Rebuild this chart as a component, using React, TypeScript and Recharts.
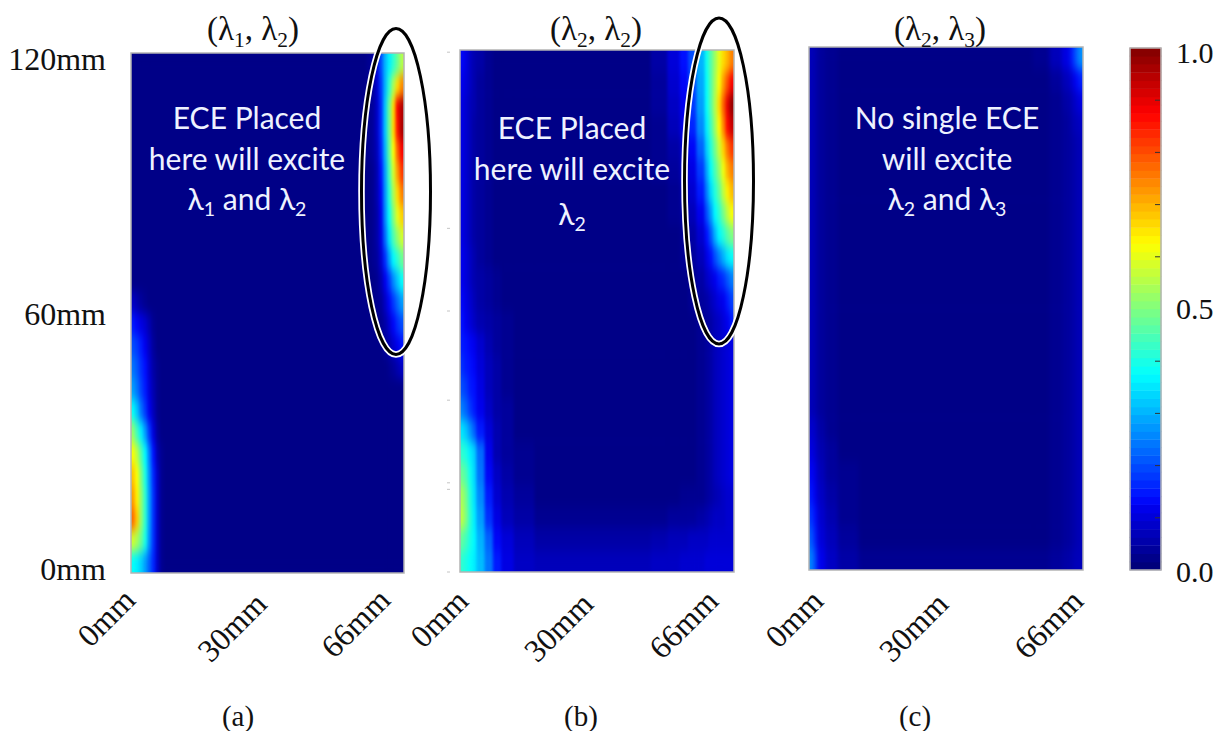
import { ReactNode } from "react";
import { Scatter, ScatterChart, XAxis, YAxis } from "recharts";

// Heat maps of the three wavelength pairs. Cell values are percent of full scale,
// rows run bottom (0-5mm) to top (115-120mm).
const rowEdges = [0, 5, 10, 15, 20, 25, 30, 35, 40, 45, 50, 55, 60, 65, 70, 75, 80, 85, 90, 95, 100, 105, 110, 115, 120];
const xTickValues = [0, 33, 66];
const xTickLabels = ["0mm", "30mm", "66mm"];
const yTickValues = [0, 60, 120];
const yTickLabels = ["0mm", "60mm", "120mm"];
const panelBMinorTicks = [0, 19, 20.5, 39.5, 60, 79, 119.5];
const barTicks = [0, 0.1, 0.2, 0.3, 0.4, 0.5, 0.6, 0.7, 0.8, 0.9, 1];

const columnsA = [0, 1, 2, 3, 4, 5, 6, 7, 8, 9, 57, 58, 59, 60, 61, 62, 63, 64, 65, 66];
const valuesA = [
  [38, 36, 33, 28, 22, 16, 8, 3, 2, 2, 2, 2, 2, 2, 2, 2, 2, 2, 2],
  [58, 54, 48, 40, 27, 17, 8, 3, 2, 2, 2, 2, 2, 2, 2, 2, 2, 2, 2],
  [77, 68, 52, 42, 28, 17, 8, 3, 2, 2, 2, 2, 2, 2, 2, 2, 2, 2, 2],
  [72, 64, 52, 42, 28, 17, 8, 3, 2, 2, 2, 2, 2, 2, 2, 2, 2, 2, 2],
  [68, 62, 50, 40, 27, 16, 8, 3, 2, 2, 2, 2, 2, 2, 2, 2, 2, 2, 2],
  [62, 56, 46, 37, 25, 14, 6, 3, 2, 2, 2, 2, 2, 2, 2, 2, 2, 2, 2],
  [52, 44, 36, 28, 18, 10, 4, 2, 2, 2, 2, 2, 2, 2, 2, 2, 2, 2, 2],
  [38, 32, 24, 18, 12, 7, 3, 2, 2, 2, 2, 2, 2, 2, 2, 2, 2, 2, 2],
  [28, 24, 19, 15, 10, 6, 3, 2, 2, 2, 2, 2, 2, 2, 2, 2, 2, 2, 2],
  [24, 21, 17, 14, 9, 5, 3, 2, 2, 2, 2, 2, 2, 2, 2, 3, 4, 6, 8],
  [20, 18, 15, 12, 8, 4, 2, 2, 2, 2, 2, 2, 2, 2, 4, 6, 9, 12, 14],
  [15, 13, 11, 9, 6, 3, 2, 2, 2, 2, 2, 2, 2, 3, 5, 9, 13, 17, 20],
  [8, 6, 4, 3, 2, 2, 2, 2, 2, 2, 2, 2, 3, 4, 8, 13, 18, 23, 28],
  [2, 2, 2, 2, 2, 2, 2, 2, 2, 2, 2, 2, 3, 6, 12, 18, 26, 32, 38],
  [2, 2, 2, 2, 2, 2, 2, 2, 2, 2, 2, 3, 4, 9, 17, 28, 37, 42, 48],
  [2, 2, 2, 2, 2, 2, 2, 2, 2, 2, 2, 3, 5, 11, 23, 35, 45, 52, 58],
  [2, 2, 2, 2, 2, 2, 2, 2, 2, 2, 2, 3, 5, 12, 26, 38, 50, 60, 67],
  [2, 2, 2, 2, 2, 2, 2, 2, 2, 2, 2, 3, 6, 13, 27, 41, 54, 66, 75],
  [2, 2, 2, 2, 2, 2, 2, 2, 2, 2, 2, 3, 6, 14, 28, 44, 58, 72, 82],
  [2, 2, 2, 2, 2, 2, 2, 2, 2, 2, 3, 4, 7, 16, 30, 47, 62, 78, 88],
  [2, 2, 2, 2, 2, 2, 2, 2, 2, 2, 3, 4, 8, 17, 32, 48, 66, 86, 96],
  [2, 2, 2, 2, 2, 2, 2, 2, 2, 2, 3, 4, 8, 17, 32, 48, 66, 88, 95],
  [2, 2, 2, 2, 2, 2, 2, 2, 2, 2, 3, 4, 9, 18, 30, 42, 54, 66, 74],
  [2, 2, 2, 2, 2, 2, 2, 2, 2, 2, 3, 4, 10, 20, 30, 36, 42, 48, 55],
];

const columnsB = [0, 1, 2, 3, 4, 6, 8, 10, 13, 18, 46, 50, 53, 55, 57, 59, 60, 61, 62, 63, 64, 65, 66];
const valuesB = [
  [42, 40, 38, 36, 31, 24, 15, 11, 8, 7, 8, 8, 9, 9, 9, 10, 10, 10, 10, 10, 10, 10],
  [47, 44, 40, 37, 30, 22, 13, 10, 7, 5, 6, 7, 7, 8, 8, 8, 9, 9, 9, 9, 9, 9],
  [56, 50, 42, 36, 28, 17, 11, 7, 5, 3, 3, 4, 4, 4, 5, 6, 7, 8, 8, 8, 9, 9],
  [54, 49, 41, 35, 26, 15, 9, 6, 4, 2, 2, 2, 3, 3, 3, 4, 5, 6, 7, 8, 9, 9],
  [48, 45, 39, 34, 24, 13, 8, 5, 3, 2, 2, 2, 2, 2, 3, 4, 5, 7, 8, 9, 10, 11],
  [42, 40, 36, 33, 23, 12, 6, 4, 3, 2, 2, 2, 2, 2, 3, 4, 5, 7, 8, 9, 10, 11],
  [35, 32, 27, 22, 15, 10, 6, 4, 2, 2, 2, 2, 2, 2, 3, 4, 5, 7, 8, 9, 10, 11],
  [25, 22, 18, 15, 12, 8, 5, 4, 2, 2, 2, 2, 2, 2, 3, 4, 5, 7, 8, 9, 10, 11],
  [20, 18, 15, 14, 11, 7, 5, 3, 2, 2, 2, 2, 2, 2, 3, 4, 5, 7, 8, 9, 10, 11],
  [17, 15, 14, 13, 10, 7, 5, 3, 2, 2, 2, 2, 2, 2, 3, 4, 5, 7, 8, 9, 10, 11],
  [15, 14, 13, 12, 9, 6, 4, 3, 2, 2, 2, 2, 2, 2, 3, 4, 5, 7, 8, 9, 10, 11],
  [14, 12, 10, 8, 6, 5, 4, 3, 2, 2, 2, 2, 2, 2, 3, 4, 5, 7, 8, 10, 12, 15],
  [13, 11, 9, 7, 5, 4, 3, 2, 2, 2, 2, 2, 2, 3, 4, 5, 7, 9, 11, 12, 15, 19],
  [12, 10, 8, 6, 5, 4, 3, 2, 2, 2, 2, 2, 2, 3, 5, 8, 10, 12, 15, 17, 21, 25],
  [12, 10, 8, 6, 4, 3, 2, 2, 2, 2, 2, 2, 3, 4, 7, 11, 14, 20, 25, 30, 35, 38],
  [11, 9, 7, 5, 4, 3, 2, 2, 2, 2, 2, 2, 3, 5, 9, 14, 21, 30, 37, 41, 46, 50],
  [11, 9, 7, 5, 4, 3, 2, 2, 2, 2, 2, 3, 4, 7, 12, 20, 28, 37, 42, 49, 56, 62],
  [11, 9, 7, 5, 4, 3, 2, 2, 2, 2, 2, 3, 5, 9, 15, 25, 34, 41, 47, 56, 64, 69],
  [11, 9, 7, 5, 4, 3, 2, 2, 2, 2, 3, 4, 7, 11, 18, 29, 38, 45, 52, 61, 70, 75],
  [11, 9, 7, 5, 4, 3, 2, 2, 2, 2, 3, 5, 8, 13, 22, 33, 41, 49, 57, 67, 76, 82],
  [11, 9, 7, 5, 4, 3, 2, 2, 2, 2, 3, 7, 11, 16, 26, 36, 44, 53, 63, 74, 87, 93],
  [11, 9, 7, 6, 4, 3, 2, 2, 2, 2, 4, 8, 12, 18, 28, 38, 46, 55, 66, 78, 90, 98],
  [12, 10, 8, 6, 4, 3, 2, 2, 2, 2, 4, 9, 13, 19, 29, 38, 46, 54, 62, 72, 80, 88],
  [13, 11, 8, 6, 5, 3, 2, 2, 2, 2, 5, 10, 14, 20, 30, 39, 46, 53, 60, 66, 70, 75],
];

const columnsC = [0, 1, 2, 4, 7, 12, 54, 58, 61, 63, 64, 65, 66];
const valuesC = [
  [26, 20, 12, 8, 5, 3, 3, 4, 5, 6, 7, 7],
  [22, 16, 10, 7, 4, 2, 2, 3, 4, 5, 6, 7],
  [18, 14, 9, 6, 3, 2, 2, 3, 4, 5, 6, 7],
  [15, 12, 8, 5, 3, 2, 2, 3, 4, 5, 6, 7],
  [13, 11, 7, 4, 3, 2, 2, 3, 4, 5, 6, 7],
  [11, 9, 6, 4, 2, 2, 2, 3, 4, 5, 6, 7],
  [9, 8, 5, 3, 2, 2, 2, 3, 4, 5, 6, 7],
  [7, 6, 4, 3, 2, 2, 2, 3, 4, 5, 6, 7],
  [7, 6, 4, 3, 2, 2, 2, 3, 4, 5, 6, 7],
  [7, 6, 4, 3, 2, 2, 2, 3, 4, 5, 6, 7],
  [7, 6, 4, 3, 2, 2, 2, 3, 4, 5, 6, 7],
  [7, 6, 4, 3, 2, 2, 2, 3, 4, 5, 6, 7],
  [7, 6, 4, 3, 2, 2, 2, 3, 4, 5, 6, 7],
  [7, 6, 4, 3, 2, 2, 2, 3, 4, 5, 6, 7],
  [7, 6, 4, 3, 2, 2, 2, 3, 4, 5, 6, 7],
  [7, 6, 4, 3, 2, 2, 2, 3, 4, 5, 6, 7],
  [7, 6, 4, 3, 2, 2, 2, 3, 4, 5, 6, 7],
  [7, 6, 4, 3, 2, 2, 2, 3, 4, 5, 6, 7],
  [7, 6, 4, 3, 2, 2, 2, 3, 4, 5, 6, 7],
  [7, 6, 4, 3, 2, 2, 2, 3, 4, 5, 6, 7],
  [7, 6, 4, 3, 2, 2, 2, 3, 4, 6, 7, 8],
  [7, 6, 4, 3, 2, 2, 2, 3, 5, 7, 9, 11],
  [7, 6, 4, 3, 2, 2, 2, 4, 7, 10, 13, 16],
  [7, 6, 4, 3, 2, 2, 3, 7, 11, 16, 22, 27],
];

const barLevels = [
  0.008, 0.023, 0.039, 0.055, 0.07, 0.086, 0.102, 0.117, 0.133, 0.148, 0.164, 0.18, 0.195, 0.211, 0.227, 0.242,
  0.258, 0.273, 0.289, 0.305, 0.32, 0.336, 0.352, 0.367, 0.383, 0.398, 0.414, 0.43, 0.445, 0.461, 0.477, 0.492,
  0.508, 0.523, 0.539, 0.555, 0.57, 0.586, 0.602, 0.617, 0.633, 0.648, 0.664, 0.68, 0.695, 0.711, 0.727, 0.742,
  0.758, 0.773, 0.789, 0.805, 0.82, 0.836, 0.852, 0.867, 0.883, 0.898, 0.914, 0.93, 0.945, 0.961, 0.977, 0.992,
];

const SERIF = "'Liberation Serif', serif";
const LABEL = "Lato, sans-serif";
const BORDER = "#b4b4b4";

type Cell = { x: number; y: number; w: number; h: number; value: number };
type Rect = { left: number; top: number; width: number; height: number };

// jet, with the navy end a little darker like the original bar
function jet(v: number) {
  const ramp = (t: number) => Math.max(0, Math.min(1, t));
  const r = ramp(Math.min(4 * v - 1.5, -4 * v + 4.5));
  const g = ramp(Math.min(4 * v - 0.5, -4 * v + 3.5));
  const b = ramp(Math.min(4 * v + 0.45, -4 * v + 2.5));
  return `rgb(${Math.round(r * 255)},${Math.round(g * 255)},${Math.round(b * 255)})`;
}

function toCells(columns: number[], rows: number[], values: number[][]): Cell[] {
  return values.flatMap((row, r) =>
    row.map((v, c) => ({
      x: (columns[c] + columns[c + 1]) / 2,
      y: (rows[r] + rows[r + 1]) / 2,
      w: columns[c + 1] - columns[c],
      h: rows[r + 1] - rows[r],
      value: v / 100,
    })),
  );
}

const barCells: Cell[] = barLevels.map((v) => ({ x: 0.5, y: v, w: 1, h: 1 / 64, value: v }));

function HeatChart({
  id,
  rect,
  xMax,
  yMax,
  cells,
  blur,
  xAxisTick,
  yAxisTick,
  yTicks,
  children,
}: {
  id: string;
  rect: Rect;
  xMax: number;
  yMax: number;
  cells: Cell[];
  blur?: string;
  xAxisTick?: (p: any) => any;
  yAxisTick?: (p: any) => any;
  yTicks?: number[];
  children?: ReactNode;
}) {
  const pxX = rect.width / xMax;
  const pxY = rect.height / yMax;
  return (
    <div style={{ position: "absolute", left: 0, top: 0, width: 1225, height: 731 }} className={id}>
      {blur && <style>{`.${id} .recharts-scatter { filter: url(#${id}-blur); }`}</style>}
      <ScatterChart
        width={1225}
        height={731}
        margin={{
          left: rect.left - 1,
          top: rect.top,
          right: 1225 - rect.left - rect.width,
          bottom: 731 - rect.top - rect.height - 1,
        }}
      >
        <defs>
          {blur && (
            <filter
              id={`${id}-blur`}
              filterUnits="userSpaceOnUse"
              x={rect.left}
              y={rect.top}
              width={rect.width}
              height={rect.height}
              colorInterpolationFilters="sRGB"
            >
              <feGaussianBlur stdDeviation={blur} />
              <feComponentTransfer>
                <feFuncA type="linear" slope={50} />
              </feComponentTransfer>
            </filter>
          )}
        </defs>
        <XAxis
          type="number"
          dataKey="x"
          domain={[0, xMax]}
          ticks={xAxisTick ? xTickValues : []}
          interval={0}
          height={1}
          axisLine={false}
          tickLine={false}
          tick={xAxisTick ?? false}
        />
        <YAxis
          type="number"
          dataKey="y"
          domain={[0, yMax]}
          ticks={yTicks ?? []}
          interval={0}
          width={1}
          axisLine={false}
          tickLine={false}
          tick={yAxisTick ?? false}
        />
        <Scatter
          data={cells}
          isAnimationActive={false}
          shape={(p: any) => {
            const c: Cell = p.payload;
            return (
              <rect
                x={p.cx - (c.w * pxX) / 2 - 0.3}
                y={p.cy - (c.h * pxY) / 2 - 0.3}
                width={c.w * pxX + 0.6}
                height={c.h * pxY + 0.6}
                fill={jet(c.value)}
              />
            );
          }}
        />
      </ScatterChart>
      {/* the chart puts its series above plain children, so notes and rings sit in their own layer */}
      <svg width={1225} height={731} style={{ position: "absolute", left: 0, top: 0 }}>
        <rect x={rect.left} y={rect.top} width={rect.width} height={rect.height} fill="none" stroke={BORDER} strokeWidth={1.5} />
        {children}
      </svg>
    </div>
  );
}

// rotated x labels, shift moves each one along the axis to where the original sits
const rotatedTick = (shifts: number[], lifts: number[]) => (p: any) => {
  const i = xTickValues.indexOf(p.payload.value);
  const x = p.x + shifts[i];
  const y = 606 - lifts[i];
  return (
    <text
      x={x}
      y={y}
      transform={`rotate(-45 ${x} ${y})`}
      textAnchor="end"
      fontFamily={SERIF}
      fontSize={32}
      fill="#111"
    >
      {xTickLabels[i]}
    </text>
  );
};

const yLabelShift = [-3, 2, 7];
const leftTick = (p: any) => {
  const i = yTickValues.indexOf(p.payload.value);
  return (
    <text x={106} y={p.y + yLabelShift[i] + 10} textAnchor="end" fontFamily={SERIF} fontSize={32} fill="#111">
      {yTickLabels[i]}
    </text>
  );
};

const minorTick = (p: any) => <line x1={p.x - 5} x2={p.x - 2} y1={p.y} y2={p.y} stroke="#c4c4c4" />;

const barTick = (p: any) => {
  const v: number = p.payload.value;
  const labelled = v === 0 || v === 0.5 || v === 1;
  const y = v === 1 ? p.y + 15 : v === 0 ? p.y + 12 : p.y + 10;
  return (
    <g>
      {!labelled && <line x1={1155} x2={1160} y1={p.y} y2={p.y} stroke="#333" />}
      {labelled && (
        <text x={1176} y={y} fontFamily={SERIF} fontSize={30} fill="#111">
          {v.toFixed(1)}
        </text>
      )}
    </g>
  );
};

// λ with a subscript; "after" carries on at the baseline again
function Lambda({ n, size, after }: { n: number; size: number; after?: string }) {
  const drop = size * 0.2;
  return (
    <>
      <tspan>λ</tspan>
      <tspan fontSize={size * 0.65} dy={drop}>
        {n}
      </tspan>
      {after && (
        <tspan fontSize={size} dy={-drop}>
          {after}
        </tspan>
      )}
    </>
  );
}

function Title({ x, a, b }: { x: number; a: number; b: number }) {
  return (
    <text x={x} y={40} textAnchor="middle" fontFamily={SERIF} fontSize={33} fill="#111">
      (<Lambda n={a} size={33} after=", " />
      <Lambda n={b} size={33} after=")" />
    </text>
  );
}

function Caption({ x, label }: { x: number; label: string }) {
  return (
    <text x={x} y={726} textAnchor="middle" fontFamily={SERIF} fontSize={29} fill="#111">
      {label}
    </text>
  );
}

function Note({ x, y, children }: { x: number; y: number; children: ReactNode }) {
  return (
    <text x={x} y={y} textAnchor="middle" fontFamily={LABEL} fontSize={30} fill="#eef2ff">
      {children}
    </text>
  );
}

function Ring({ cx, cy }: { cx: number; cy: number }) {
  return (
    <g fill="none">
      <ellipse cx={cx} cy={cy} rx={34.5} ry={163} stroke="#fff" strokeWidth={6.5} />
      <ellipse cx={cx} cy={cy} rx={34.5} ry={163} stroke="#000" strokeWidth={3} />
    </g>
  );
}

export default function App() {
  return (
    <div style={{ position: "absolute", left: 0, top: 0, width: 1225, height: 731, background: "#fff" }}>
      <HeatChart
        id="panel-a"
        rect={{ left: 131, top: 53, width: 273, height: 520 }}
        xMax={66}
        yMax={120}
        cells={toCells(columnsA, rowEdges, valuesA)}
        blur="1.6 6"
        xAxisTick={rotatedTick([6, 1, -12], [4, 0, 4])}
        yAxisTick={leftTick}
        yTicks={yTickValues}
      >
        <Title x={253} a={1} b={2} />
        <Note x={247} y={129}>ECE Placed</Note>
        <Note x={247} y={170}>here will excite</Note>
        <Note x={247} y={210}>
          <Lambda n={1} size={30} after=" and " />
          <Lambda n={2} size={30} />
        </Note>
        <Ring cx={396} cy={191.5} />
        <Caption x={238} label="(a)" />
      </HeatChart>
      <HeatChart
        id="panel-b"
        rect={{ left: 460, top: 50, width: 274, height: 522 }}
        xMax={66}
        yMax={120}
        cells={toCells(columnsB, rowEdges, valuesB)}
        blur="1.6 6"
        xAxisTick={rotatedTick([10, -2, -14], [3, 0, 3])}
        yAxisTick={minorTick}
        yTicks={panelBMinorTicks}
      >
        <Title x={596} a={2} b={2} />
        <Note x={572} y={139}>ECE Placed</Note>
        <Note x={572} y={180}>here will excite</Note>
        <Note x={572} y={225}>
          <Lambda n={2} size={30} />
        </Note>
        <Ring cx={719} cy={181} />
        <Caption x={581} label="(b)" />
      </HeatChart>
      <HeatChart
        id="panel-c"
        rect={{ left: 809, top: 47, width: 274, height: 523 }}
        xMax={66}
        yMax={120}
        cells={toCells(columnsC, rowEdges, valuesC)}
        blur="2 6"
        xAxisTick={rotatedTick([16, 4, 2], [3, 0, 3])}
      >
        <Title x={940} a={2} b={3} />
        <Note x={947} y={129}>No single ECE</Note>
        <Note x={947} y={170}>will excite</Note>
        <Note x={947} y={210}>
          <Lambda n={2} size={30} after=" and " />
          <Lambda n={3} size={30} />
        </Note>
        <Caption x={915} label="(c)" />
      </HeatChart>
      <HeatChart
        id="colorbar"
        rect={{ left: 1130, top: 48, width: 31, height: 522 }}
        xMax={1}
        yMax={1}
        cells={barCells}
        yAxisTick={barTick}
        yTicks={barTicks}
      />
    </div>
  );
}
